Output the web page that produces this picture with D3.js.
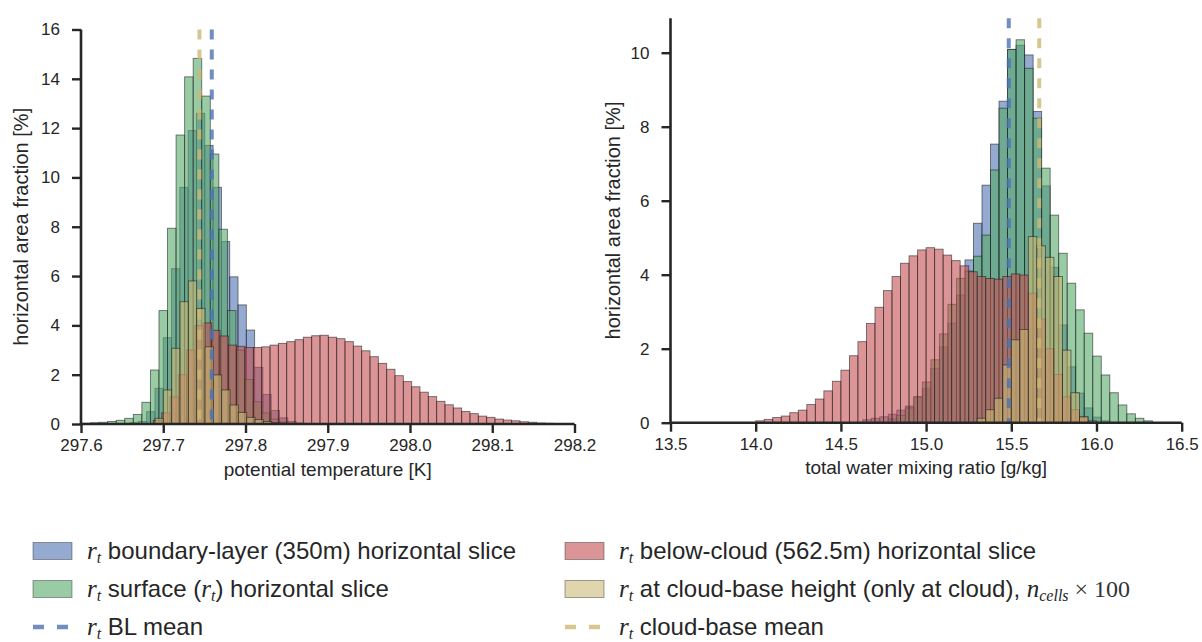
<!DOCTYPE html>
<html><head><meta charset="utf-8">
<script src="https://cdn.jsdelivr.net/npm/d3@7"></script>
<style>body{margin:0;background:#fff}svg{display:block}</style>
</head><body>
<svg id="c" width="1202" height="642"></svg>
<script>
// ---------------- DATA ----------------
// Left panel: potential temperature [K], bin width ~0.0101 K
const thetaXTicks = [297.6, 297.7, 297.8, 297.9, 298.0, 298.1, 298.2];
const thetaYTicks = [0, 2, 4, 6, 8, 10, 12, 14, 16];
const thetaBLStart = 297.6596, thetaBLWidth = 0.0101;
const thetaBL = [0.05, 0.1, 0.5, 1.45, 3.5, 6.3, 9.6, 11.9, 12.6, 11.3, 9.6, 7.4, 5.97, 4.83, 3.81, 2.3, 1.2, 0.55, 0.25, 0.1, 0.04];
const thetaSurfStart = 297.6012, thetaSurfWidth = 0.0104;
const thetaSurf = [0.03, 0.05, 0.07, 0.1, 0.15, 0.23, 0.39, 0.88, 2.19, 4.6, 7.94, 11.72, 14.08, 14.83, 13.3, 10.95, 7.9, 4.6, 3.0, 1.8, 0.9, 0.45, 0.2, 0.08, 0.03];
const thetaBelowStart = 297.688, thetaBelowWidth = 0.01013;
const thetaBelow = [0.15, 0.45, 1.1, 2.0, 3.0, 4.0, 4.1, 3.8, 3.57, 3.2, 3.15, 3.1, 3.1, 3.13, 3.2, 3.27, 3.34, 3.42, 3.52, 3.58, 3.6, 3.52, 3.46, 3.34, 3.16, 2.97, 2.73, 2.46, 2.22, 1.96, 1.72, 1.51, 1.29, 1.11, 0.92, 0.78, 0.65, 0.51, 0.42, 0.32, 0.27, 0.2, 0.16, 0.13, 0.09, 0.07, 0.04, 0.03];
const thetaCBStart = 297.69, thetaCBWidth = 0.01013;
const thetaCB = [0.23, 1.38, 3.07, 4.96, 5.8, 4.69, 3.13, 1.99, 1.38, 0.77, 0.47, 0.27, 0.18, 0.1, 0.06, 0.03];
const thetaBLMean = 297.759, thetaCBMean = 297.744;

// Right panel: total water mixing ratio [g/kg], bin width 0.05 g/kg
const rtXTicks = [13.5, 14.0, 14.5, 15.0, 15.5, 16.0, 16.5];
const rtYTicks = [0, 2, 4, 6, 8, 10];
const rtBLStart = 14.628, rtBLWidth = 0.05;
const rtBL = [0.08, 0.12, 0.16, 0.23, 0.34, 0.45, 0.7, 0.93, 1.47, 2.05, 2.69, 3.45, 4.4, 5.39, 6.42, 7.53, 8.69, 10.09, 10.2, 9.94, 8.41, 6.4, 4.2, 2.64, 1.51, 0.8, 0.4, 0.15, 0.05];
const rtSurfStart = 14.778, rtSurfWidth = 0.05;
const rtSurf = [0.1, 0.2, 0.4, 0.7, 1.1, 1.7, 2.4, 3.2, 3.9, 4.1, 4.5, 5.07, 6.83, 8.5, 10.09, 10.35, 9.58, 8.23, 6.88, 5.61, 4.58, 3.77, 3.05, 2.42, 1.8, 1.29, 0.81, 0.48, 0.24, 0.12, 0.05];
const rtBelowStart = 14.0, rtBelowWidth = 0.05;
const rtBelow = [0.05, 0.09, 0.14, 0.18, 0.27, 0.34, 0.49, 0.64, 0.86, 1.12, 1.42, 1.81, 2.19, 2.68, 3.12, 3.57, 3.95, 4.31, 4.51, 4.67, 4.73, 4.69, 4.53, 4.38, 4.24, 4.08, 3.95, 3.9, 3.88, 3.95, 4.02, 3.99, 3.5, 2.8, 2.0, 1.3, 0.7, 0.35, 0.15, 0.05];
const rtCBStart = 15.30, rtCBWidth = 0.05;
const rtCB = [0.12, 0.35, 0.66, 1.56, 2.24, 2.52, 5.03, 4.78, 4.47, 3.95, 1.96, 0.81, 0.16];
const rtBLMean = 15.485, rtCBMean = 15.664;

const seriesColors = {bl: "#4C72B0", surf: "#55A868", below: "#C44E52", cb: "#CCB974"};

// ---------------- DRAW ----------------
const svg = d3.select("#c");
const ink = "#262626";

function panel(o) {
  const x = d3.scaleLinear().domain(o.xDomain).range(o.xRange);
  const y = d3.scaleLinear().domain(o.yDomain).range(o.yRange);
  const g = svg.append("g");
  o.series.forEach(s => {
    g.append("g").selectAll("rect").data(s.values).join("rect")
      .attr("x", (d, i) => x(s.start + i * s.width))
      .attr("width", (d, i) => x(s.start + (i + 1) * s.width) - x(s.start + i * s.width))
      .attr("y", d => y(d))
      .attr("height", d => y(0) - y(d))
      .attr("fill", s.color).attr("fill-opacity", 0.6)
      .attr("stroke", "#1a1a1a").attr("stroke-opacity", 0.6).attr("stroke-width", 0.9);
  });
  o.means.forEach(m => {
    g.append("line")
      .attr("x1", x(m.value)).attr("x2", x(m.value))
      .attr("y1", y(o.yDomain[1])).attr("y2", y(0))
      .attr("stroke", m.color).attr("stroke-opacity", 0.8)
      .attr("stroke-width", 4).attr("stroke-dasharray", "10,10");
  });
  // axes
  const xa = g.append("g").attr("transform", `translate(0,${o.yRange[0]})`)
    .call(d3.axisBottom(x).tickValues(o.xTicks).tickFormat(d3.format(".1f")).tickSize(9).tickPadding(6));
  const ya = g.append("g").attr("transform", `translate(${o.xRange[0]},0)`)
    .call(d3.axisLeft(y).tickValues(o.yTicks).tickFormat(d3.format("d")).tickSize(9).tickPadding(12));
  [xa, ya].forEach(a => {
    a.select(".domain").attr("stroke", ink).attr("stroke-width", 2.6);
    a.selectAll(".tick line").attr("stroke", ink).attr("stroke-width", 2.4);
    a.selectAll(".tick text").attr("fill", ink).style("font-family", "Liberation Sans, Arial, sans-serif").style("font-size", "17px");
  });
  xa.select(".domain").attr("d", `M${o.xRange[0]},0H${o.xRange[1]}`);
  ya.select(".domain").attr("d", `M0,${o.yRange[1]}V${o.yRange[0]}`);
  g.append("text").attr("x", (o.xRange[0] + o.xRange[1]) / 2).attr("y", o.yRange[0] + 45)
    .attr("text-anchor", "middle").attr("dominant-baseline", "central")
    .attr("fill", ink).style("font-family", "Liberation Sans, Arial, sans-serif").style("font-size", "19px")
    .text(o.xLabel);
  const cy = (o.yRange[0] + o.yRange[1]) / 2;
  g.append("text").attr("transform", `translate(${o.yLabelX},${cy}) rotate(-90)`)
    .attr("text-anchor", "middle").attr("dominant-baseline", "central")
    .attr("fill", ink).style("font-family", "Liberation Sans, Arial, sans-serif").style("font-size", "20px")
    .text("horizontal area fraction [%]");
}

panel({
  xDomain: [297.6, 298.2], xRange: [81, 574.5],
  yDomain: [0, 16], yRange: [424, 29.5],
  xTicks: thetaXTicks, yTicks: thetaYTicks,
  xLabel: "potential temperature [K]", yLabelX: 21,
  series: [
    {start: thetaBLStart, width: thetaBLWidth, values: thetaBL, color: seriesColors.bl},
    {start: thetaSurfStart, width: thetaSurfWidth, values: thetaSurf, color: seriesColors.surf},
    {start: thetaBelowStart, width: thetaBelowWidth, values: thetaBelow, color: seriesColors.below},
    {start: thetaCBStart, width: thetaCBWidth, values: thetaCB, color: seriesColors.cb}
  ],
  means: [{value: thetaBLMean, color: seriesColors.bl}, {value: thetaCBMean, color: seriesColors.cb}]
});

panel({
  xDomain: [13.5, 16.5], xRange: [670.5, 1181.7],
  yDomain: [0, 10.93], yRange: [422.7, 18.3],
  xTicks: rtXTicks, yTicks: rtYTicks,
  xLabel: "total water mixing ratio [g/kg]", yLabelX: 613,
  series: [
    {start: rtBLStart, width: rtBLWidth, values: rtBL, color: seriesColors.bl},
    {start: rtSurfStart, width: rtSurfWidth, values: rtSurf, color: seriesColors.surf},
    {start: rtBelowStart, width: rtBelowWidth, values: rtBelow, color: seriesColors.below},
    {start: rtCBStart, width: rtCBWidth, values: rtCB, color: seriesColors.cb}
  ],
  means: [{value: rtBLMean, color: seriesColors.bl}, {value: rtCBMean, color: seriesColors.cb}]
});

// ---------------- LEGEND ----------------
const legendItems = [
  {col: 0, row: 0, kind: "patch", color: seriesColors.bl, parts: [["m","r"],["s","t"],["t"," boundary-layer (350m) horizontal slice"]]},
  {col: 0, row: 1, kind: "patch", color: seriesColors.surf, parts: [["m","r"],["s","t"],["t"," surface ("],["m","r"],["s","t"],["t",") horizontal slice"]]},
  {col: 0, row: 2, kind: "dash", color: seriesColors.bl, parts: [["m","r"],["s","t"],["t"," BL mean"]]},
  {col: 1, row: 0, kind: "patch", color: seriesColors.below, parts: [["m","r"],["s","t"],["t"," below-cloud (562.5m) horizontal slice"]]},
  {col: 1, row: 1, kind: "patch", color: seriesColors.cb, parts: [["m","r"],["s","t"],["t"," at cloud-base height (only at cloud), "],["m","n"],["s","cells"],["r"," \u00d7 100"]]},
  {col: 1, row: 2, kind: "dash", color: seriesColors.cb, parts: [["m","r"],["s","t"],["t"," cloud-base mean"]]}
];
const colX = [33, 565], rowY = [551, 589, 627], patchW = 39, textOff = 54;
const lg = svg.append("g");
legendItems.forEach(it => {
  const x0 = colX[it.col], yc = rowY[it.row];
  if (it.kind === "patch") {
    lg.append("rect").attr("x", x0).attr("y", yc - 8.5).attr("width", patchW).attr("height", 17)
      .attr("fill", it.color).attr("fill-opacity", 0.6)
      .attr("stroke", "#1a1a1a").attr("stroke-opacity", 0.4).attr("stroke-width", 1);
  } else {
    lg.append("line").attr("x1", x0).attr("x2", x0 + patchW).attr("y1", yc).attr("y2", yc)
      .attr("stroke", it.color).attr("stroke-opacity", 0.8).attr("stroke-width", 4.5)
      .attr("stroke-dasharray", "11,13");
  }
  const t = lg.append("text").attr("x", x0 + textOff).attr("y", yc + 8).attr("fill", ink)
    .style("font-family", "Liberation Sans, Arial, sans-serif").style("font-size", "24px");
  let sub = false;
  it.parts.forEach(([k, s]) => {
    const sp = t.append("tspan").text(s);
    let dy = 0;
    if (k === "s") { dy = sub ? 0 : 4; sub = true; }
    else if (sub) { dy = -4; sub = false; }
    if (dy) sp.attr("dy", dy);
    if (k === "m") sp.style("font-family", "Liberation Serif, serif").style("font-style", "italic").style("font-size", "25px");
    if (k === "s") sp.style("font-family", "Liberation Serif, serif").style("font-style", "italic").style("font-size", "16px");
    if (k === "r") sp.style("font-family", "Liberation Serif, serif").style("font-size", "24px").attr("fill", "#333");
  });
});
</script>
</body></html>
